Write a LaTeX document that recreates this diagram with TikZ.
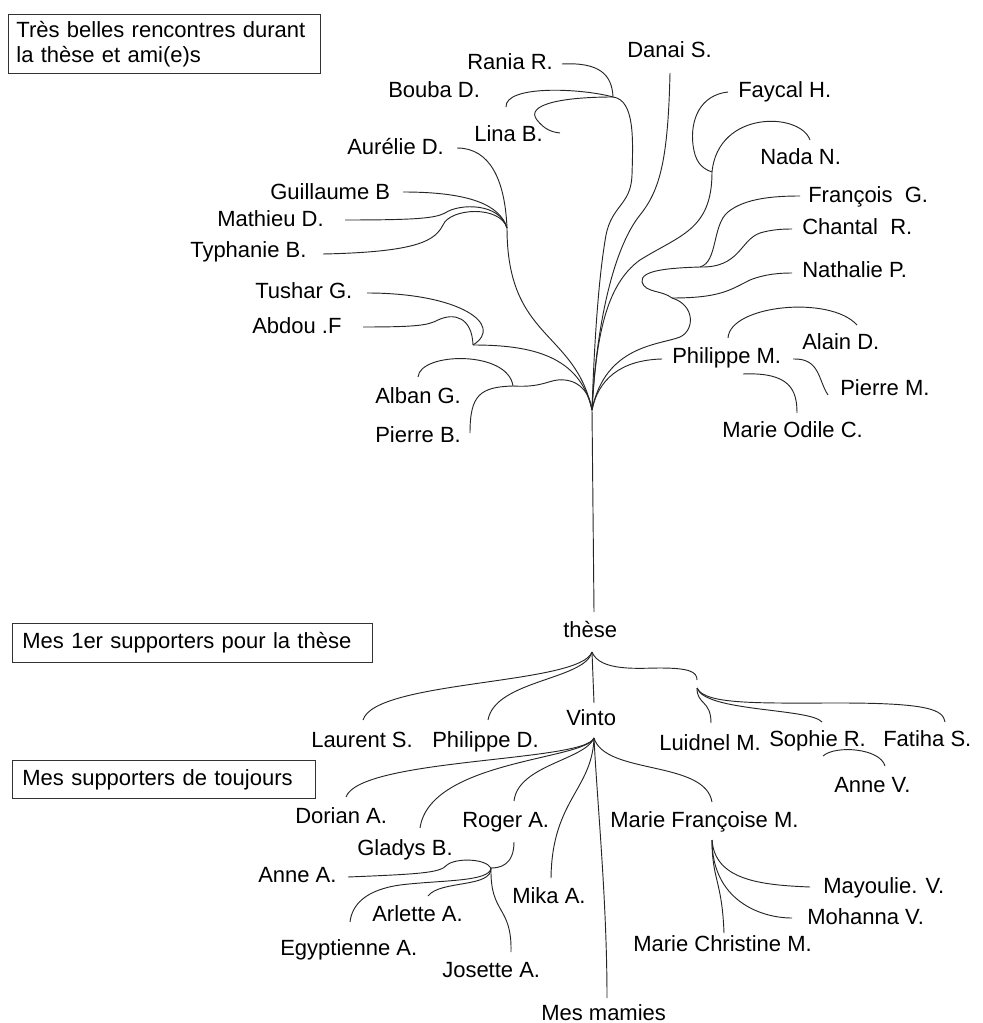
\documentclass[tikz,border=0pt]{standalone}
\usepackage{fontspec}
\setmainfont{Liberation Sans}
\begin{document}
\begin{tikzpicture}[x=0.75pt,y=-0.75pt,
  lbl/.style={font=\fontsize{16.5}{20}\selectfont, inner sep=0pt, anchor=base west},
  boxst/.style={draw=black!80, line width=0.6pt, anchor=north west, font=\fontsize{16.5}{18.75}\selectfont, align=left, inner ysep=0pt},
  link/.style={line width=0.7pt, draw=black!85}]
\useasboundingbox (0,0) rectangle (982,1023);

% ---------- boxes ----------
\node[boxst, text width=222pt, inner xsep=6pt, minimum height=44.25pt] (b1) at (8,14) {Très belles rencontres durant\\la thèse et ami(e)s};
\node[boxst, text width=255pt, inner xsep=7.5pt, minimum height=29.25pt] (b2) at (12,623) {Mes 1er supporters pour la thèse};
\node[boxst, text width=212pt, inner xsep=7.5pt, minimum height=28.5pt] (b3) at (12,760) {Mes supporters de toujours};

% ---------- labels (top) ----------
\node[lbl] (rania) at (467,70) {Rania R.};
\node[lbl] (bouba) at (388,98) {Bouba D.};
\node[lbl] (lina) at (474,142) {Lina B.};
\node[lbl] (danai) at (627,58) {Danai S.};
\node[lbl] (aurelie) at (347,155) {Aurélie D.};
\node[lbl] (guillaume) at (270,200) {Guillaume B};
\node[lbl] (mathieu) at (217,227) {Mathieu D.};
\node[lbl] (typhanie) at (190,258) {Typhanie B.};
\node[lbl] (tushar) at (255,298) {Tushar G.};
\node[lbl] (abdou) at (252,333) {Abdou .F};
\node[lbl] (alban) at (375,403) {Alban G.};
\node[lbl] (pierreb) at (375,442) {Pierre B.};
\node[lbl] (faycal) at (738,98) {Faycal H.};
\node[lbl] (nada) at (760,165) {Nada N.};
\node[lbl] (francois) at (808,203) {François\ \ G.};
\node[lbl] (chantal) at (802,235) {Chantal\ \ R.};
\node[lbl] (nathalie) at (802,278) {Nathalie P.};
\node[lbl] (philippem) at (672,363) {Philippe M.};
\node[lbl] (alain) at (802,349) {Alain D.};
\node[lbl] (pierrem) at (840,395) {Pierre M.};
\node[lbl] (marieodile) at (722,437) {Marie Odile C.};

% ---------- labels (bottom) ----------
\node[lbl] (these) at (563,637) {thèse};
\node[lbl] (vinto) at (566,725) {Vinto};
\node[lbl] (laurent) at (311,747) {Laurent S.};
\node[lbl] (philipped) at (432,747) {Philippe D.};
\node[lbl] (luidnel) at (659,750) {Luidnel M.};
\node[lbl] (sophie) at (769,746) {Sophie R.};
\node[lbl] (fatiha) at (883,746) {Fatiha S.};
\node[lbl] (annev) at (834,792) {Anne V.};
\node[lbl] (dorian) at (295,823) {Dorian A.};
\node[lbl] (roger) at (462,827) {Roger A.};
\node[lbl] (gladys) at (357,855) {Gladys B.};
\node[lbl] (annea) at (258,882) {Anne A.};
\node[lbl] (mika) at (512,903) {Mika A.};
\node[lbl] (arlette) at (372,921) {Arlette A.};
\node[lbl] (egyptienne) at (280,955) {Egyptienne A.};
\node[lbl] (josette) at (442,977) {Josette A.};
\node[lbl] (mamies) at (541,1020) {Mes mamies};
\node[lbl] (mariefr) at (610,827) {Marie Françoise M.};
\node[lbl] (mayoulie) at (823,893) {Mayoulie. V.};
\node[lbl] (mohanna) at (807,924) {Mohanna V.};
\node[lbl] (mariech) at (633,951) {Marie Christine M.};

% ---------- junctions ----------
\coordinate (root) at (592,410);
\coordinate (j1) at (613,97);
\coordinate (j2) at (507,228);
\coordinate (j3) at (473,345);
\coordinate (j4) at (513,386);
\coordinate (j5) at (712,172);
\coordinate (jf) at (700,267);
\coordinate (jn) at (672,298);
\coordinate (jt) at (592,652);
\coordinate (jr) at (697,688);
\coordinate (jv) at (594,738);
\coordinate (jro) at (491,868);
\coordinate (jm) at (712,840);

% ---------- connector ends near labels ----------
\coordinate (raniaE) at (562,64);
\coordinate (boubaE) at (506,107);
\coordinate (linaE) at (560,133);
\coordinate (danaiE) at (670,73);
\coordinate (aurelieE) at (457,148);
\coordinate (guillaumeE) at (403,192);
\coordinate (mathieuE) at (345,220);
\coordinate (typhanieE) at (323,254);
\coordinate (tusharE) at (367,293);
\coordinate (abdouE) at (363,327);
\coordinate (albanE) at (418,377);
\coordinate (pierrebE) at (470,433);
\coordinate (faycalE) at (728,92);
\coordinate (nadaE) at (810,140);
\coordinate (francoisE) at (800,196);
\coordinate (chantalE) at (792,229);
\coordinate (nathalieE) at (792,273);
\coordinate (philippemW) at (662,359);
\coordinate (philippemN) at (728,338);
\coordinate (alainE) at (857,325);
\coordinate (philippemR) at (793,359);
\coordinate (pierremE) at (828,395);
\coordinate (philippemS) at (743,374);
\coordinate (marieodileE) at (797,413);
\coordinate (theseN) at (594,612);
\coordinate (laurentE) at (363,720);
\coordinate (philippedE) at (488,720);
\coordinate (vintoN) at (594,703);
\coordinate (rtop) at (697,680);
\coordinate (luidnelE) at (711,723);
\coordinate (sophieE) at (822,722);
\coordinate (fatihaE) at (945,722);
\coordinate (sophieS) at (823,756);
\coordinate (annevE) at (885,766);
\coordinate (dorianE) at (346,797);
\coordinate (gladysE) at (420,828);
\coordinate (rogerN) at (514,801);
\coordinate (mikaE) at (551,878);
\coordinate (mamiesE) at (607,998);
\coordinate (mariefrN) at (712,802);
\coordinate (rogerS) at (514,842);
\coordinate (anneaE) at (348,877);
\coordinate (egyptienneE) at (350,922);
\coordinate (arletteE) at (428,896);
\coordinate (josetteE) at (511,952);
\coordinate (mayoulieE) at (810,887);
\coordinate (mohannaE) at (792,918);
\coordinate (mariechE) at (724,933);

% ---------- top fan ----------
\draw[link] (root) -- (theseN);
\draw[link] (j2) .. controls (507,340) and (575,330) .. (root);
\draw[link] (j3) .. controls (530,345) and (580,355) .. (root);
\draw[link] (j4) .. controls (545,388) and (550,378) .. (565,380) .. controls (582,382) and (590,395) .. (root);
\draw[link] (j1) .. controls (635,100) and (633,140) .. (632,175) .. controls (631,205) and (612,205) .. (606,235) .. controls (598,280) and (594,350) .. (root);
\draw[link] (danaiE) .. controls (668,160) and (660,190) .. (640,215) .. controls (612,250) and (596,330) .. (root);
\draw[link] (j5) .. controls (712,230) and (680,235) .. (640,260) .. controls (605,285) and (596,340) .. (root);
\draw[link] (jn) .. controls (695,305) and (695,330) .. (680,337) .. controls (660,345) and (605,345) .. (root);
\draw[link] (philippemW) .. controls (620,360) and (598,380) .. (root);

% Rania / Bouba / Lina
\draw[link] (raniaE) .. controls (600,62) and (612,75) .. (j1);
\draw[link] (boubaE) .. controls (505,85) and (580,88) .. (j1);
\draw[link] (j1) .. controls (560,97) and (525,105) .. (537,120) .. controls (545,130) and (552,132) .. (linaE);
% Aurelie group
\draw[link] (aurelieE) .. controls (490,148) and (505,180) .. (j2);
\draw[link] (guillaumeE) .. controls (470,192) and (500,205) .. (j2);
\draw[link] (mathieuE) .. controls (420,220) and (435,218) .. (445,213) .. controls (460,203) and (500,203) .. (j2);
\draw[link] (typhanieE) .. controls (420,252) and (435,240) .. (443,225) .. controls (450,208) and (500,205) .. (j2);
% Tushar / Abdou
\draw[link] (tusharE) .. controls (460,293) and (505,325) .. (j3);
\draw[link] (abdouE) .. controls (420,327) and (428,325) .. (438,320) .. controls (455,312) and (472,318) .. (j3);
% Alban / Pierre B
\draw[link] (albanE) .. controls (420,352) and (508,350) .. (j4);
\draw[link] (pierrebE) .. controls (470,395) and (480,387) .. (j4);
% Faycal / Nada
\draw[link] (faycalE) .. controls (700,95) and (690,120) .. (693,145) .. controls (695,160) and (700,168) .. (j5);
\draw[link] (nadaE) .. controls (800,112) and (718,110) .. (j5);
% Francois / Chantal / Nathalie
\draw[link] (jf) .. controls (718,262) and (712,225) .. (728,212) .. controls (745,198) and (775,196) .. (francoisE);
\draw[link] (jf) .. controls (740,268) and (740,240) .. (760,233) .. controls (770,230) and (780,229) .. (chantalE);
\draw[link] (jn) .. controls (662,290) and (645,293) .. (642,282) .. controls (640,270) and (670,268) .. (jf);
\draw[link] (jn) .. controls (720,298) and (730,290) .. (750,280) .. controls (765,274) and (780,273) .. (nathalieE);
% Philippe M. group
\draw[link] (philippemN) .. controls (730,305) and (830,295) .. (alainE);
\draw[link] (philippemR) .. controls (820,358) and (818,380) .. (pierremE);
\draw[link] (philippemS) .. controls (790,372) and (797,390) .. (marieodileE);

% ---------- these ----------
\draw[link] (jt) .. controls (580,685) and (375,680) .. (laurentE);
\draw[link] (jt) .. controls (585,680) and (495,680) .. (philippedE);
\draw[link] (jt) -- (vintoN);
\draw[link] (jt) .. controls (600,672) and (640,668) .. (660,668) .. controls (690,668) and (697,672) .. (rtop);
\draw[link] (jr) .. controls (697,705) and (711,700) .. (luidnelE);
\draw[link] (jr) .. controls (705,712) and (810,708) .. (sophieE);
\draw[link] (jr) .. controls (705,705) and (760,703) .. (840,703) .. controls (930,703) and (943,710) .. (fatihaE);
\draw[link] (sophieS) .. controls (835,745) and (880,748) .. (annevE);

% ---------- Vinto ----------
\draw[link] (jv) .. controls (585,762) and (360,758) .. (dorianE);
\draw[link] (jv) .. controls (585,760) and (430,760) .. (gladysE);
\draw[link] (jv) .. controls (585,760) and (518,765) .. (rogerN);
\draw[link] (jv) .. controls (592,790) and (552,800) .. (mikaE);
\draw[link] (jv) .. controls (597,800) and (607,900) .. (mamiesE);
\draw[link] (jv) .. controls (605,775) and (705,760) .. (mariefrN);
% Roger group
\draw[link] (rogerS) .. controls (514,865) and (500,868) .. (jro);
\draw[link] (jro) .. controls (485,858) and (455,858) .. (447,865) .. controls (440,873) and (420,874) .. (anneaE);
\draw[link] (jro) .. controls (490,882) and (440,880) .. (400,885) .. controls (365,890) and (352,905) .. (egyptienneE);
\draw[link] (jro) .. controls (492,888) and (440,880) .. (arletteE);
\draw[link] (jro) .. controls (490,915) and (512,905) .. (josetteE);
% Marie Francoise group
\draw[link] (jm) .. controls (715,880) and (760,885) .. (mayoulieE);
\draw[link] (jm) .. controls (712,900) and (760,918) .. (mohannaE);
\draw[link] (jm) .. controls (712,880) and (722,880) .. (mariechE);
\end{tikzpicture}
\end{document}
